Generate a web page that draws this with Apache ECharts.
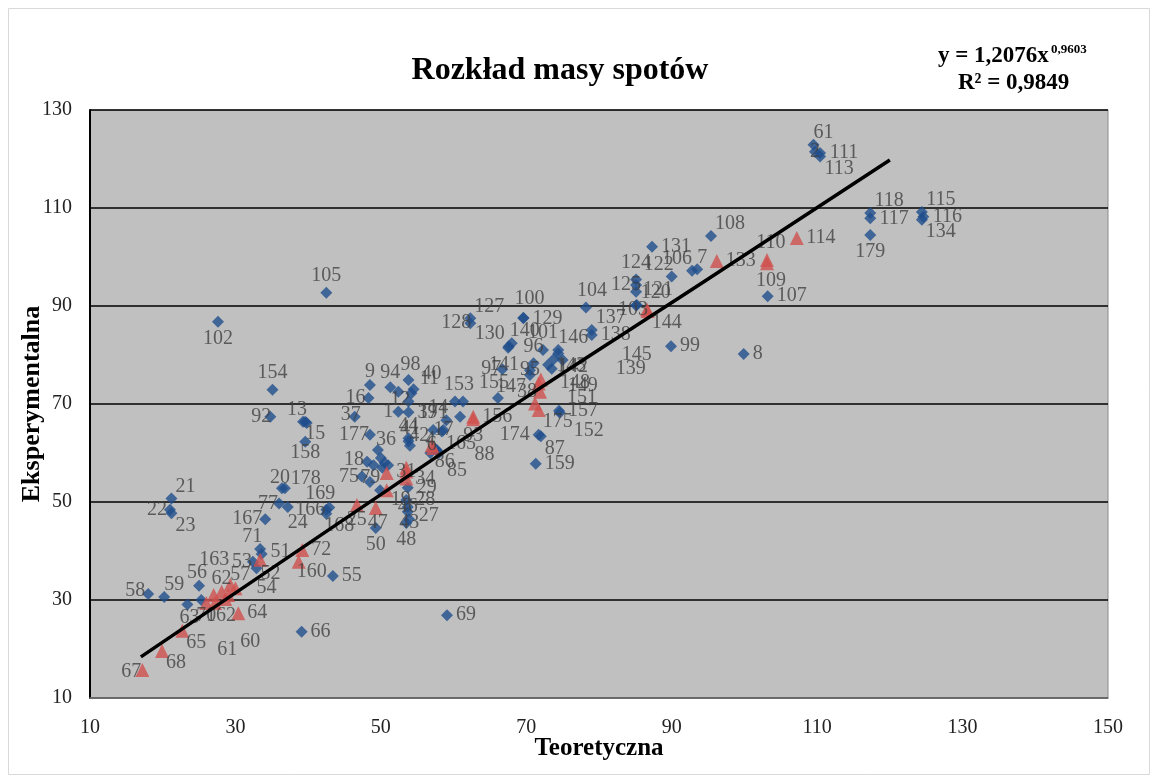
<!DOCTYPE html>
<html><head><meta charset="utf-8">
<script src="https://cdn.jsdelivr.net/npm/echarts@6/dist/echarts.min.js"></script>
<style>html,body{margin:0;padding:0;background:#fff}#c{width:1157px;height:781px}</style>
</head><body><div id="c"></div>
<script>
// ---- data ----
const blueX = [18.0,20.2,25.0,23.4,25.3,21.2,21.0,21.2,36.4,36.8,36.0,37.2,34.1,42.5,42.5,42.9,33.4,33.6,32.4,32.9,39.1,43.4,59.1,47.4,48.5,48.1,49.6,50.0,50.5,51.0,49.0,50.2,49.9,49.3,53.7,53.5,53.7,53.7,53.5,53.9,56.8,57.7,58.0,58.4,57.2,59.0,58.6,60.9,60.2,61.3,66.1,66.7,48.5,48.3,51.3,53.8,54.5,52.4,54.2,53.8,52.4,53.8,46.4,39.6,48.5,53.8,53.8,42.5,27.6,35.1,34.8,39.3,39.8,39.6,62.3,62.3,69.6,69.6,78.2,68.0,67.6,67.5,72.3,74.4,74.4,79.0,79.0,71.0,70.5,70.5,85.2,89.9,99.9,87.3,95.4,103.2,90.0,92.8,93.5,85.1,85.1,85.1,85.1,109.5,109.7,110.4,110.4,117.3,117.3,117.3,124.4,124.6,124.4,74.5,71.7,72.0,71.3,74.6,73.8,73.0,57.5,54.0,73.5,75.0];
const blueY = [31.2,30.6,32.9,29.1,30.0,50.7,48.4,47.7,52.8,52.8,49.7,49.0,46.5,48.4,47.6,48.9,40.4,39.4,37.8,36.5,23.5,34.9,26.9,55.2,54.1,58.2,60.6,59.0,58.0,57.5,57.5,57.0,52.4,44.7,52.9,50.4,49.0,48.0,45.7,46.5,60.0,60.6,60.0,64.4,64.7,66.7,64.7,67.4,70.5,70.5,71.2,77.1,73.9,71.2,73.4,74.9,73.0,72.5,72.2,70.5,68.4,68.3,67.4,66.4,63.7,63.0,62.4,92.7,86.8,72.9,67.4,66.4,66.1,62.3,87.5,86.5,87.5,87.6,89.7,82.4,81.8,81.5,81.0,81.0,80.3,85.1,84.1,78.3,76.9,75.9,90.2,81.8,80.2,102.1,104.3,92.0,96.0,97.2,97.5,95.4,94.3,92.9,90.1,122.9,121.5,121.2,120.5,109.0,107.9,104.5,109.2,108.2,107.6,68.6,63.7,63.4,57.8,68.2,79.2,78.0,60.8,61.5,77.2,79.0];
const blueIds = ['58','59','56','63','','21','22','23','20','178','77','24','167','166','168','169','71','51','53','52','66','55','69','75','','18','36','','','','','','79','50','29','28','46','27','48','43','4','86','85','165','171','14','17','','153','','155','97','9','16','94','98','40','12','11','','1','39','37','15','177','44','','105','102','154','92','13','','158','127','128','129','100','104','140','130','141','101','146','143','137','138','96','95','147','120','99','8','131','108','107','122','106','7','124','125','121','','61','2','111','113','118','117','179','115','116','134','157','174','87','159','152','142','148','88','41','139','145'];

const redX = [17.2,19.9,22.7,26.0,27.2,28.1,29.3,28.6,29.0,30.4,27.0,30.0,38.7,39.2,33.4,46.7,49.3,50.8,50.8,53.5,53.5,53.5,57.2,57.0,62.7,62.7,71.7,71.9,71.2,71.7,86.6,86.7,96.2,103.1,103.1,107.2,72.0];
const redY = [15.7,19.6,23.7,29.4,29.4,31.7,33.1,30.2,31.0,27.3,31.0,32.4,37.8,40.2,38.2,49.4,48.8,55.9,52.4,56.2,54.8,57.0,61.0,61.6,67.4,66.9,74.2,72.5,70.1,68.8,89.3,89.0,99.2,99.4,98.7,103.9,75.0];
const redIds = ['67','68','65','70','162','62','57','61','60','64','','54','160','72','163','25','47','','19','31','34','','42','6','156','93','149','151','38','175','103','144','133','110','109','114',''];

// trend line points
const trendX = [17, 45, 70, 95, 120];
const trendY = [18.4, 46.5, 71.4, 95.5, 119.8];

const xTicks = [10, 30, 50, 70, 90, 110, 130, 150];
const yTicks = [10, 30, 50, 70, 90, 110, 130];

// ---- label placement (layout only) ----
const place = {
 'b58':['l',6,-3],'b59':['tr',-4,0],'b56':['t',-2,4],'b63':['b',2,-4],'b21':['tr',0,0],'b22':['l',6,0],'b23':['br',0,0],
 'b20':['t',-2,6],'b178':['tr',2,2],'b77':['l',8,0],'b24':['br',-4,4],'b167':['l',6,0],'b166':['l',8,0],'b168':['br',-6,0],
 'b169':['tl',10,-2],'b71':['tl',6,0],'b51':['r',0,-2],'b53':['l',8,0],'b52':['br',0,-6],'b75':['l',6,0],'b18':['l',6,-2],
 'b36':['tr',-6,2],'b79':['tl',4,0],'b50':['b',0,0],'b46':['c',0,0],'b27':['r',2,4],'b48':['b',0,0],'b43':['c',0,4],
 'b30':['br',0,0],'b4':['t',0,4],'b86':['br',-6,0],'b85':['br',4,6],'b165':['br',0,0],'b171':['t',0,0],'b14':['tl',6,0],
 'b17':['c',0,0],'b153':['t',4,0],'b155':['t',-4,2],'b97':['l',8,0],'b9':['t',0,4],'b16':['l',6,0],'b94':['t',0,2],
 'b98':['t',2,2],'b40':['tr',4,-4],'b12':['c',2,8],'b11':['tr',4,-2],'b1':['l',4,0],'b37':['c',-4,-2],'b15':['br',-4,0],
 'b177':['l',8,0],'b44':['t',0,4],'b105':['t',0,0],'b102':['b',0,0],'b154':['t',0,0],'b92':['l',10,0],'b13':['tl',8,0],
 'b158':['b',0,-6],'b127':['tr',0,0],'b128':['l',10,0],'b100':['t',6,-2],'b104':['t',6,0],'b140':['tr',-6,0],'b130':['tl',0,0],
 'b141':['b',-4,0],'b101':['t',0,0],'b146':['tr',-4,0],'b143':['br',-6,0],'b137':['tr',0,0],'b96':['t',0,0],'b95':['c',0,0],
 'b147':['bl',0,0],'b120':['tr',0,0],'b108':['tr',0,0],'b122':['tl',6,0],'b106':['tl',4,0],'b7':['tr',-4,0],'b124':['t',0,0],
 'b125':['c',-10,0],'b121':['r',-2,-2],'b61':['tr',-4,0],'b2':['c',0,0],'b113':['br',0,0],'b118':['tr',0,0],'b179':['b',0,0],
 'b115':['tr',0,0],'b134':['br',0,0],'b174':['l',0,0],'b87':['br',0,0],'b152':['br',10,6],'b142':['br',0,-4],'b148':['br',8,6],
 'b88':['r',30,6],'b41':['t',0,0],'b139':['r',55,0],'b145':['r',50,-5],
 'r67':['l',8,2],'r68':['br',0,0],'r65':['br',0,0],'r70':['b',0,-4],'r162':['b',6,-4],'r62':['t',0,4],'r57':['tr',-4,2],
 'r61':['c',2,51],'r60':['c',22,47],'r54':['r',12,0],'r160':['br',-6,-2],'r163':['l',-22,0],'r25':['b',0,-2],'r47':['b',2,-2],
 'r19':['br',0,-2],'r31':['c',0,0],'r42':['tl',0,0],'r6':['c',0,0],'r93':['b',0,0],'r149':['r',20,2],'r151':['r',18,6],
 'r38':['tl',6,0],'r175':['br',0,0],'r103':['l',10,0],'r144':['br',0,0],'r110':['t',4,0],'r109':['b',4,0]
};

const LFS = 20, CW = 10;
function mkLabel(id, key) {
  if (!id) return {show:false};
  const p = place[key] || ['r',0,0];
  const w = id.length * CW;
  let o;
  switch (p[0]) {
    case 'r': o=[w/2+9,0]; break;
    case 'l': o=[-(w/2+9),0]; break;
    case 't': o=[0,-17]; break;
    case 'b': o=[0,17]; break;
    case 'tr': o=[w/2+4,-12]; break;
    case 'br': o=[w/2+4,12]; break;
    case 'tl': o=[-(w/2+4),-12]; break;
    case 'bl': o=[-(w/2+4),12]; break;
    default: o=[0,0];
  }
  return {show:true, position:'inside', offset:[o[0]+p[1], o[1]+p[2]], formatter:id};
}

const blueData = blueX.map((x,i)=>({value:[x, blueY[i]], label: mkLabel(blueIds[i], 'b'+blueIds[i])}));
const redData = redX.map((x,i)=>({value:[x, redY[i]], label: mkLabel(redIds[i], 'r'+redIds[i])}));
const trendData = trendX.map((x,i)=>[x, trendY[i]]);

const labelStyle = {fontFamily:'Liberation Serif', fontSize:LFS, color:'#404040'};

const chart = echarts.init(document.getElementById('c'));
chart.setOption({
  animation:false,
  backgroundColor:'#ffffff',
  title:{text:'Rozkład masy spotów', left:555, top:50, textAlign:'center',
    textStyle:{fontFamily:'Liberation Serif', fontWeight:'bold', fontSize:32, color:'#000'}},
  graphic:[
    {type:'rect', shape:{x:8.5,y:8.5,width:1141,height:766}, style:{fill:null, stroke:'#d9d9d9', lineWidth:1}, z:-1},
    {type:'text', left:938, top:45, style:{text:'y = 1,2076x', font:'bold 23px "Liberation Serif"', fill:'#000'}},
    {type:'text', left:1051, top:43, style:{text:'0,9603', font:'bold 13px "Liberation Serif"', fill:'#000'}},
    {type:'text', left:958, top:72, style:{text:'R² = 0,9849', font:'bold 23px "Liberation Serif"', fill:'#000'}}
  ],
  grid:{left:90, right:49, top:110, bottom:83, show:true, backgroundColor:'#C0C0C0', borderColor:'#8c8c8c', borderWidth:1,
    outerBoundsMode:'none', containLabel:false},
  xAxis:{type:'value', min:10, max:150, interval:20,
    name:'Teoretyczna', nameLocation:'middle', nameGap:38, nameMoveOverlap:false,
    nameTextStyle:{fontFamily:'Liberation Serif', fontWeight:'bold', fontSize:25, color:'#000'},
    axisLine:{show:true, lineStyle:{color:'#7f7f7f', width:1.5}}, axisTick:{show:false},
    axisLabel:{fontFamily:'Liberation Serif', fontSize:20, color:'#222', margin:20,
      formatter:v=>xTicks.includes(v)?String(v):''},
    splitLine:{show:false}},
  yAxis:{type:'value', min:10, max:130, interval:20,
    name:'Eksperymentalna', nameLocation:'middle', nameGap:45, nameMoveOverlap:false,
    nameTextStyle:{fontFamily:'Liberation Serif', fontWeight:'bold', fontSize:26, color:'#000'},
    axisLine:{show:true, lineStyle:{color:'#000', width:2}}, axisTick:{show:false},
    axisLabel:{fontFamily:'Liberation Serif', fontSize:20, color:'#222', margin:18,
      formatter:v=>yTicks.includes(v)?String(v):''},
    splitLine:{show:true, lineStyle:{color:'#000', width:1.5}}},
  series:[
    {type:'scatter', symbol:'diamond', symbolSize:12, itemStyle:{color:'#1F4E8C'}, data:blueData,
     label:labelStyle, z:3},
    {type:'scatter', symbol:'triangle', symbolSize:14, itemStyle:{color:'#D0504D'}, data:redData,
     label:labelStyle, z:3},
    {type:'line', data:trendData, showSymbol:false, symbol:'none', smooth:true,
     lineStyle:{color:'#000', width:3.5}, z:4, silent:true}
  ]
});
</script></body></html>
